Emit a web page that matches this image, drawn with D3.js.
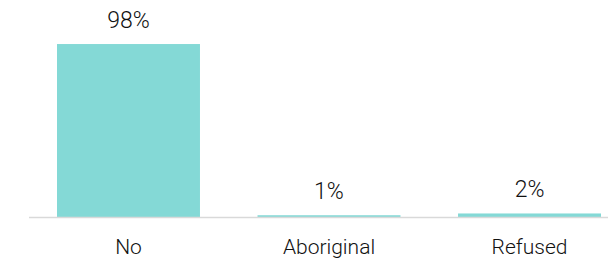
<!DOCTYPE html>
<html>
<head>
<meta charset="utf-8">
<script src="https://cdn.jsdelivr.net/npm/d3@7"></script>
<style>
  body { margin: 0; background: #fff; }
  text { font-family: Roboto, "Open Sans", sans-serif; font-weight: 300; fill: #111; }
</style>
</head>
<body>
<div id="chart"></div>
<script>
// chart data
const categories = ['No', 'Aboriginal', 'Refused'];
const values = [98, 1, 2];
const valueLabels = ['98%', '1%', '2%'];

const width = 608;
const height = 260;
const baseline = 217;

const svg = d3.select('#chart')
  .append('svg')
  .attr('width', width)
  .attr('height', height);

const x = d3.scaleBand()
  .domain(categories)
  .range([57, 601])
  .paddingInner(0.287)
  .paddingOuter(0);

const y = d3.scaleLinear()
  .domain([0, 100])
  .range([baseline, 40.5]);

// bars
svg.selectAll('rect.bar')
  .data(values)
  .enter()
  .append('rect')
  .attr('class', 'bar')
  .attr('x', (d, i) => x(categories[i]))
  .attr('y', d => y(d))
  .attr('width', x.bandwidth())
  .attr('height', d => baseline - y(d))
  .attr('fill', '#84d9d6');

// baseline
svg.append('line')
  .attr('x1', 29)
  .attr('x2', width)
  .attr('y1', baseline + 0.5)
  .attr('y2', baseline + 0.5)
  .attr('stroke', '#d9d9d9')
  .attr('stroke-width', 1.5);

// value labels
svg.selectAll('text.value')
  .data(values)
  .enter()
  .append('text')
  .attr('class', 'value')
  .attr('x', (d, i) => x(categories[i]) + x.bandwidth() / 2)
  .attr('y', d => y(d) - 16)
  .attr('text-anchor', 'middle')
  .attr('font-size', '23px')
  .text((d, i) => valueLabels[i]);

// category labels
svg.selectAll('text.cat')
  .data(categories)
  .enter()
  .append('text')
  .attr('class', 'cat')
  .attr('x', d => x(d) + x.bandwidth() / 2)
  .attr('y', 254)
  .attr('text-anchor', 'middle')
  .attr('font-size', '21px')
  .text(d => d);
</script>
</body>
</html>
